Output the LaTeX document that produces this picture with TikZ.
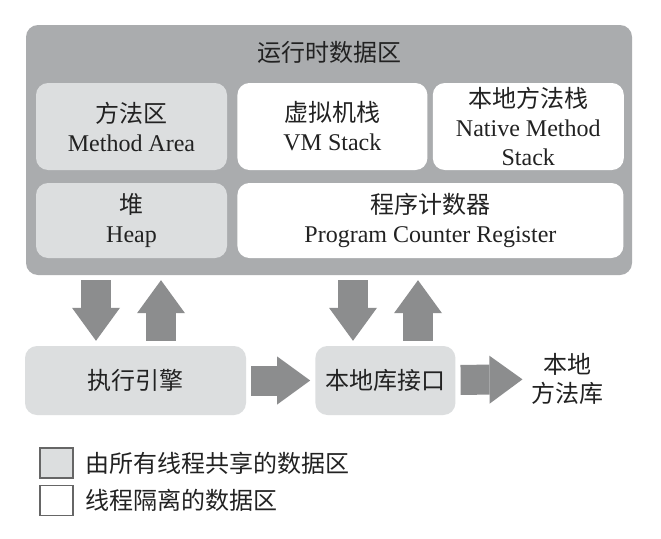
\documentclass[tikz,border=0pt]{standalone}
\usepackage{fontspec}
\setmainfont{Liberation Serif}
\newfontfamily\cjk{Noto Sans CJK SC}
\usepackage{tikz}
\usetikzlibrary{arrows.meta, positioning}
\usepackage{xcolor}
\definecolor{areagray}{RGB}{170,172,174}
\definecolor{sharedgray}{RGB}{220,222,223}
\definecolor{arrowgray}{RGB}{140,141,142}
\definecolor{inkblack}{RGB}{34,34,34}

\begin{document}
\begin{tikzpicture}[
    x=1pt, y=-1pt,
    font=\fontsize{24}{29}\selectfont,
    text=inkblack,
    shared/.style={fill=sharedgray, rounded corners=12pt, align=center, inner sep=0pt},
    private/.style={fill=white, rounded corners=12pt, align=center, inner sep=0pt},
    flow/.style={draw=arrowgray, line width=30pt, -{Triangle[length=33pt, width=48pt, line width=0pt]}, shorten <=5pt, shorten >=5pt},
    keybox/.style={draw=black!60, line width=1.5pt, minimum width=33pt, minimum height=30pt, inner sep=0pt}
]
\path[fill=white] (0,0) rectangle (661,538);
\useasboundingbox (0,0) rectangle (661,538);

\node[fill=areagray, rounded corners=12pt, minimum width=606pt, minimum height=250pt, inner sep=0pt] (rtda) at (329,150) {};
\node (title) at (329,52) {\cjk 运行时数据区};
\node[shared, minimum width=191pt, minimum height=87pt] (method) at (131.5,126.5) {{\cjk 方法区}\\Method Area};
\node[private, minimum width=190pt, minimum height=87pt, right=10pt of method] (vmstack) {{\cjk 虚拟机栈}\\VM Stack};
\node[private, minimum width=191pt, minimum height=87pt, right=5pt of vmstack] (native) {{\cjk 本地方法栈}\\Native Method\\Stack};
\node[shared, minimum width=191pt, minimum height=75pt] (heap) at (131.5,220.5) {{\cjk 堆}\\Heap};
\node[private, minimum width=386pt, minimum height=75pt, right=10pt of heap] (pc) {{\cjk 程序计数器}\\Program Counter Register};

\node[shared, minimum width=221pt, minimum height=69pt] (exec) at (135.5,380.5) {\cjk 执行引擎};
\node[shared, minimum width=140pt, minimum height=69pt, right=69pt of exec] (jni) {\cjk 本地库接口};
\node[align=center] (natlib) at (567,379) {{\cjk 本地}\\{\cjk 方法库}};

\coordinate (down1) at (96,0);
\coordinate (up1) at (161,0);
\coordinate (down2) at (353,0);
\coordinate (up2) at (418,0);
\draw[flow] (down1 |- rtda.south) -- (down1 |- exec.north);
\draw[flow] (up1 |- exec.north) -- (up1 |- rtda.south);
\draw[flow] (down2 |- rtda.south) -- (down2 |- jni.north);
\draw[flow] (up2 |- jni.north) -- (up2 |- rtda.south);
\draw[flow] (exec) -- (jni);
\draw[flow] (jni) -- (natlib);

% legend
\node[keybox, fill=sharedgray] (keyshared) at (56.5,463) {};
\node[keybox, fill=white] (keyprivate) at (56.5,500.5) {};
\node[right=8pt of keyshared] (sharedtext) {\cjk 由所有线程共享的数据区};
\node[right=8pt of keyprivate] (privatetext) {\cjk 线程隔离的数据区};

\end{tikzpicture}
\end{document}
